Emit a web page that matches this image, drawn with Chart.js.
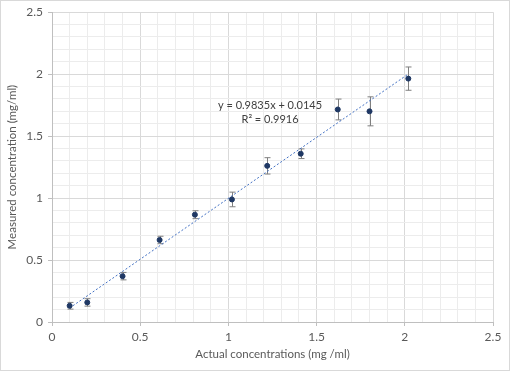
<!DOCTYPE html>
<html>
<head>
<meta charset="utf-8">
<script src="https://cdn.jsdelivr.net/npm/chart.js@4.4.1/dist/chart.umd.min.js"></script>
<style>
  html, body { margin: 0; padding: 0; background: #fff; }
  #wrap { width: 510px; height: 371px; }
</style>
</head>
<body>
<div id="wrap"><canvas id="calChart" width="510" height="371"></canvas></div>
<script>
// values
const actualConc = [0.1, 0.2, 0.4, 0.61, 0.81, 1.02, 1.22, 1.41, 1.62, 1.8, 2.02];
const measuredConc = [0.131, 0.158, 0.37, 0.662, 0.866, 0.989, 1.26, 1.358, 1.715, 1.70, 1.964];
const errorSize = [0.027, 0.03, 0.03, 0.03, 0.032, 0.059, 0.066, 0.039, 0.084, 0.117, 0.094];
// trendline ends (as drawn in the picture)
const trendX = [0.1, 2.02];
const trendY = [0.113, 2.001];
const trendText = ['y = 0.9835x + 0.0145', 'R\u00b2 = 0.9916'];

const FONT = 'Lato, "Open Sans", sans-serif';
const TEXT = '#595959';

const isMajor = v => Math.abs(v * 2 - Math.round(v * 2)) < 1e-6;

const points = actualConc.map((x, i) => ({ x: x, y: measuredConc[i] }));
const trend = trendX.map((x, i) => ({ x: x, y: trendY[i] }));

const frame = {
    id: 'frame',
    beforeDraw(chart) {
        const c = chart.ctx;
        c.save();
        c.fillStyle = '#fff';
        c.fillRect(0, 0, chart.width, chart.height);
        c.strokeStyle = '#d9d9d9';
        c.lineWidth = 1;
        c.strokeRect(0.5, 0.5, chart.width - 1, chart.height - 1);
        c.restore();
    }
};

const errorBars = {
    id: 'errorBars',
    beforeDatasetsDraw(chart) {
        const c = chart.ctx;
        const xs = chart.scales.x, ys = chart.scales.y;
        c.save();
        c.strokeStyle = '#7f7f7f';
        c.lineWidth = 1;
        points.forEach((p, i) => {
            const px = Math.round(xs.getPixelForValue(p.x)) + 0.5;
            const top = ys.getPixelForValue(p.y + errorSize[i]);
            const bot = ys.getPixelForValue(p.y - errorSize[i]);
            c.beginPath();
            c.moveTo(px, top); c.lineTo(px, bot);
            c.moveTo(px - 3, top); c.lineTo(px + 3, top);
            c.moveTo(px - 3, bot); c.lineTo(px + 3, bot);
            c.stroke();
        });
        c.restore();
    }
};

const trendLabel = {
    id: 'trendLabel',
    afterDatasetsDraw(chart) {
        const c = chart.ctx;
        const xs = chart.scales.x, ys = chart.scales.y;
        c.save();
        c.font = '11px ' + FONT;
        c.fillStyle = '#404040';
        c.textAlign = 'center';
        c.textBaseline = 'middle';
        c.fillText(trendText[0], xs.getPixelForValue(1.236), ys.getPixelForValue(1.744));
        c.fillText(trendText[1], xs.getPixelForValue(1.236), ys.getPixelForValue(1.632));
        c.restore();
    }
};

function axis(title, titlePad) {
    return {
        type: 'linear',
        min: 0,
        max: 2.5,
        ticks: {
            stepSize: 0.1,
            autoSkip: false,
            maxRotation: 0,
            padding: 4,
            color: TEXT,
            font: { family: FONT, size: 12 },
            callback: v => isMajor(v) ? String(Math.round(v * 10) / 10) : ''
        },
        grid: {
            color: ctx => isMajor(ctx.tick.value) ? '#d9d9d9' : '#ececec',
            tickColor: ctx => isMajor(ctx.tick.value) ? '#bfbfbf' : 'rgba(0,0,0,0)',
            tickLength: 4,
            lineWidth: 1
        },
        border: { color: '#bfbfbf' },
        title: {
            display: true,
            text: title,
            color: TEXT,
            padding: titlePad,
            font: { family: FONT, size: 11.5 }
        }
    };
}

const xAxis = axis('Actual concentrations (mg /ml)', 10);
xAxis.afterFit = s => { s.height = 49; };
const yAxis = axis('Measured concentration (mg/ml)', 5);
yAxis.ticks.padding = 5;
yAxis.afterFit = s => { s.width = 52; };

new Chart(document.getElementById('calChart'), {
    type: 'scatter',
    data: {
        datasets: [
            {
                label: 'Measured',
                data: points,
                backgroundColor: '#1f3864',
                borderColor: '#1f3864',
                pointRadius: 2.5,
                pointHoverRadius: 2.5
            },
            {
                type: 'line',
                label: 'Linear fit',
                data: trend,
                borderColor: '#4472c4',
                borderWidth: 1,
                borderDash: [2, 2],
                pointRadius: 0,
                fill: false
            }
        ]
    },
    options: {
        responsive: false,
        animation: false,
        layout: { padding: { top: 11, right: 17, bottom: 0, left: 0 } },
        plugins: {
            legend: { display: false },
            tooltip: { enabled: false }
        },
        scales: { x: xAxis, y: yAxis }
    },
    plugins: [frame, errorBars, trendLabel]
});
</script>
</body>
</html>
